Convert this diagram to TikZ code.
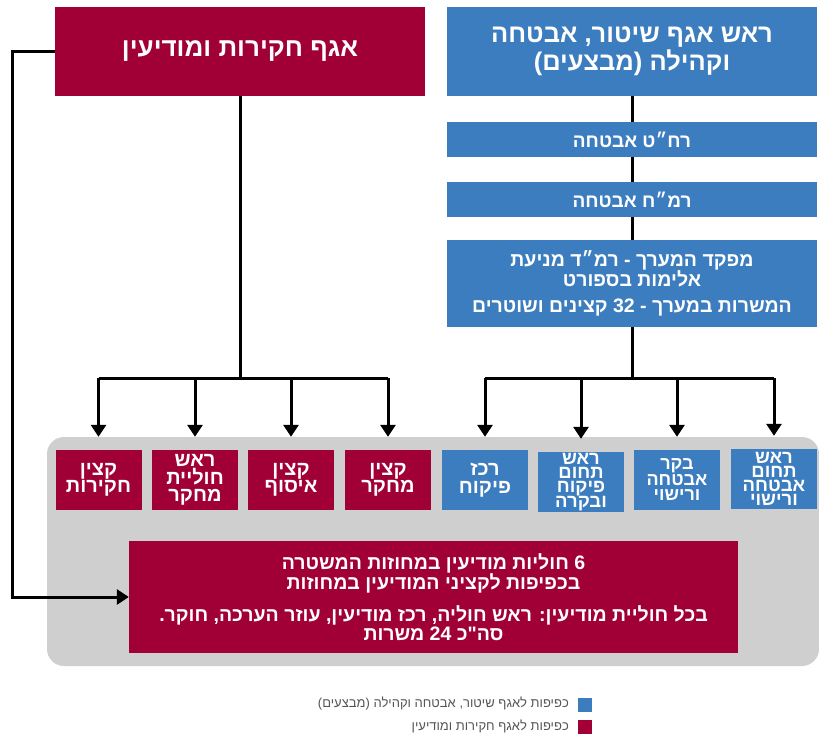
\documentclass[tikz,border=0pt]{standalone}
\usepackage{fontspec}
\setmainfont{Liberation Sans}
\newfontfamily\hebfont[Script=Hebrew]{Liberation Sans}
\TeXXeTstate=1
\usetikzlibrary{arrows.meta}
\definecolor{polblue}{HTML}{3B7DBE}
\definecolor{polred}{HTML}{A10037}
\definecolor{panelgray}{HTML}{CFCFCF}
\definecolor{legtext}{HTML}{555555}
\newcommand{\R}[1]{\beginR #1\endR}
\tikzset{
  box/.style={draw=none, text=white, align=center, inner sep=0pt},
  bluebox/.style={box, fill=polblue},
  redbox/.style={box, fill=polred},
  topbox/.style={minimum width=370pt, minimum height=89pt},
  midbox/.style={minimum width=370pt, minimum height=34.5pt, font=\hebfont\bfseries\fontsize{19}{21}\selectfont},
  smallbox/.style={minimum width=86pt, minimum height=60pt, font=\hebfont\bfseries\fontsize{20}{17.5}\selectfont},
  tightbox/.style={smallbox, font=\hebfont\bfseries\fontsize{18.5}{14}\selectfont},
  conn/.style={line width=3pt},
  arr/.style={line width=3pt, -{Triangle[width=15pt,length=12pt]}},
  legsq/.style={minimum width=14pt, minimum height=14pt, inner sep=0pt},
  legtxt/.style={anchor=east, text=legtext, inner sep=0pt, font=\hebfont\fontsize{13}{15}\selectfont}
}
\begin{document}
\begin{tikzpicture}[x=1pt,y=-1pt]
\useasboundingbox (0,0) rectangle (819,749);
\fill[white] (0,0) rectangle (819,749);

% gray panel
\fill[panelgray, rounded corners=17pt] (47,437) rectangle (819,666);

% top boxes
\node[redbox, topbox, font=\hebfont\bfseries\fontsize{26}{28}\selectfont] (redtop) at (240,51.5) {\R{אגף חקירות ומודיעין}};
\node[bluebox, topbox, font=\hebfont\bfseries\fontsize{25.5}{28}\selectfont] (bluetop) at (632,51.5) {\R{ראש אגף שיטור, אבטחה}\\\R{וקהילה (מבצעים)}};
\node[bluebox, midbox] (rht) at (632,139.5) {\R{רח״ט אבטחה}};
\node[bluebox, midbox] (rmh) at (632,199.5) {\R{רמ״ח אבטחה}};
\node[bluebox, minimum width=370pt, minimum height=87pt, font=\hebfont\bfseries\fontsize{19.5}{20}\selectfont] (mfkd) at (632,283.5)
  {\R{מפקד המערך - רמ״ד מניעת}\\\R{אלימות בספורט}\\[6pt]\R{המשרות במערך - 32 קצינים ושוטרים}};

% small boxes
\node[redbox, smallbox] (s1) at (98.5,480) {\R{קצין}\\\R{חקירות}};
\node[redbox, smallbox] (s2) at (195,480) {\R{ראש}\\\R{חוליית}\\\R{מחקר}};
\node[redbox, smallbox] (s3) at (291,480) {\R{קצין}\\\R{איסוף}};
\node[redbox, smallbox] (s4) at (388,480) {\R{קצין}\\\R{מחקר}};
\node[bluebox, smallbox] (s5) at (485,480) {\R{רכז}\\\R{פיקוח}};
\node[bluebox, tightbox] (s6) at (581,482) {\R{ראש}\\\R{תחום}\\\R{פיקוח}\\\R{ובקרה}};
\node[bluebox, smallbox, font=\hebfont\bfseries\fontsize{18}{15.5}\selectfont] (s7) at (677,480) {\R{בקר}\\\R{אבטחה}\\\R{ורישוי}};
\node[bluebox, tightbox] (s8) at (774,479) {\R{ראש}\\\R{תחום}\\\R{אבטחה}\\\R{ורישוי}};

% bottom box
\node[redbox, minimum width=609pt, minimum height=112pt, font=\hebfont\bfseries\fontsize{19.5}{19.5}\selectfont] (bot) at (433.5,597)
  {\R{6 חוליות מודיעין במחוזות המשטרה}\\\R{בכפיפות לקציני המודיעין במחוזות}\\[11pt]\R{בכל חוליית מודיעין: ראש חוליה, רכז מודיעין, עוזר הערכה, חוקר.}\\\R{סה"כ 24 משרות}};

% connectors
\coordinate (busL) at (240,378);
\coordinate (busR) at (632,378);
\draw[conn] (redtop.south) -- (busL);
\draw[conn] (s1.north |- busL) -- (s4.north |- busL);
\foreach \n in {s1,s2,s3,s4}{\draw[arr, shorten >=13pt] (\n.north |- busL) -- (\n.north);}
\draw[conn] (mfkd.south) -- (busR);
\draw[conn] (s5.north |- busR) -- (s8.north |- busR);
\foreach \n in {s5,s6,s7,s8}{\draw[arr, shorten >=13pt] (\n.north |- busR) -- (\n.north);}
\draw[conn] (bluetop.south) -- (rht.north);
\draw[conn] (rht.south) -- (rmh.north);
\draw[conn] (rmh.south) -- (mfkd.north);
\draw[arr] (redtop.west) -- ++(-42,0) |- (bot.west);

% legend
\node[legsq, fill=polblue] (lb) at (585,705) {};
\node[legsq, fill=polred] (lr) at (585,727) {};
\node[legtxt] (lbt) at (569,704) {\R{כפיפות לאגף שיטור, אבטחה וקהילה (מבצעים)}};
\node[legtxt] (lrt) at (569,726) {\R{כפיפות לאגף חקירות ומודיעין}};
\end{tikzpicture}
\end{document}
